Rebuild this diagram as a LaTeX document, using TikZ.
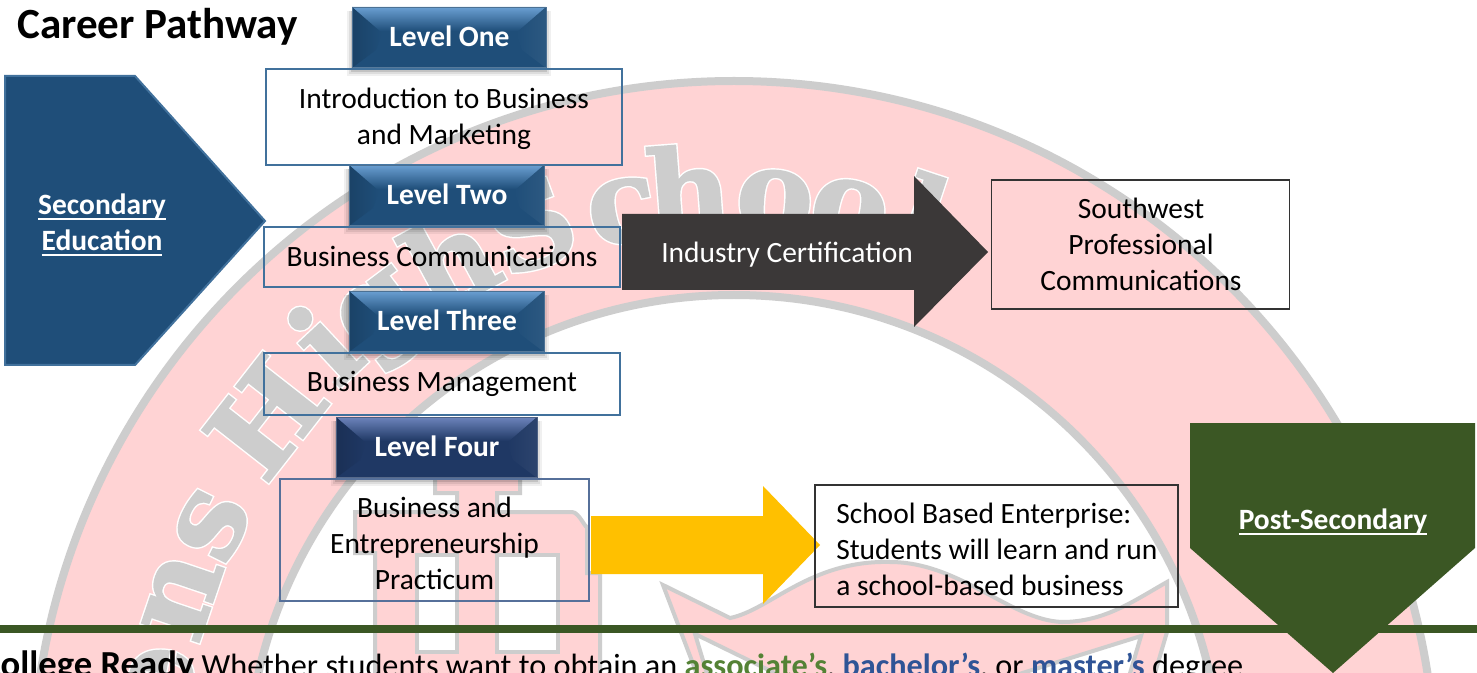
\documentclass[tikz,border=0pt]{standalone}
\usepackage{fontspec}
\setmainfont{Carlito}
\newfontfamily\wmfont[FakeBold=1.5]{DejaVu Serif Bold}
\newfontfamily\wmhalo[FakeBold=4]{DejaVu Serif Bold}
\usetikzlibrary{calc}
\definecolor{wmpink}{HTML}{FFD3D4}
\definecolor{wmgray}{HTML}{CDCDCD}
\definecolor{navy}{HTML}{1F4E79}
\definecolor{navylight}{HTML}{6A9FD2}
\definecolor{navyline}{HTML}{41719C}
\definecolor{dnavy}{HTML}{1F3864}
\definecolor{dnavylight}{HTML}{6D84BC}
\definecolor{slate}{HTML}{56709A}
\definecolor{forest}{HTML}{3B5724}
\definecolor{charcoal}{HTML}{3B3838}
\definecolor{gold}{HTML}{FFC000}
\definecolor{assoc}{HTML}{548235}
\definecolor{bach}{HTML}{2F5496}
\newcommand{\bodyfont}{\fontsize{22.1}{27}\selectfont}
\newcommand{\thickul}[1]{\begingroup\setbox0\hbox{#1}\rlap{\raisebox{-3.6pt}{\rule{\wd0}{1.4pt}}}\box0\endgroup}
\tikzset{
  plainbox/.style={draw=navyline,line width=0.8pt,fill=none},
  blackbox/.style={draw=black!80,line width=0.8pt,fill=none},
  bodytext/.style={font=\bodyfont,text=black,align=center,inner sep=0pt},
  levellabel/.style={font=\bodyfont\bfseries,text=white,inner sep=0pt},
  wmhalostyle/.style={font=\wmhalo\fontsize{87}{87}\selectfont,anchor=base,inner sep=0pt,text=white},
  wmletter/.style={font=\wmfont\fontsize{87}{87}\selectfont,anchor=base,inner sep=0pt,text=wmgray},
}
% name x0 y0 x1 y1 text base light
\newcommand{\levelbox}[8]{%
  \foreach \sh/\op in {7/0.06,5/0.08,3/0.12,1/0.15}{%
    \fill[black,opacity=\op] (#2-\sh+2,#3+4) rectangle (#4+\sh-2,#5+\sh+1);}
  \fill[#7] (#2,#3) rectangle (#4,#5);
  \shade[top color=#8,bottom color=#7] (#2,#3) -- (#4,#3) -- (#4-24,#3+24) -- (#2+24,#3+24) -- cycle;
  \shade[left color=#7!85!black,right color=#7] (#2,#3) -- (#2+30,#3+26) -- (#2+24,#5-18) -- (#2,#5) -- cycle;
  \shade[left color=#7,right color=#7!94!white] (#4,#3) -- (#4-30,#3+26) -- (#4-24,#5-18) -- (#4,#5) -- cycle;
  \draw[#7!75!white,line width=1pt] (#2,#5) -- (#4,#5);
  \draw[#7!80!white,line width=.6pt] (#2,#3) rectangle (#4,#5);
  \node[levellabel] (#1) at ({(#2+#4)/2+0.5},{(#3+#5)/2-1.5}) {#6};
}
\begin{document}
\begin{tikzpicture}[x=0.75pt,y=-0.75pt]
\useasboundingbox (0,0) rectangle (1477,673);
\clip (0,0) rectangle (1477,673);
\fill[white] (0,0) rectangle (1477,673);
% watermark ring
\path[fill=wmpink,draw=wmgray,line width=6pt,even odd rule] (734,783) circle[radius=702] (734,783) circle[radius=488];
% watermark letters
\begin{scope}[shift={(734,783)}]
\foreach \ch/\ang/\rr [count=\i] in {e/170/552,n/161.3/552,s/153.7/552,H/142/552,i/133/558,g/127/560,h/118.5/552,S/110/552,c/101/552,h/94.4/552,o/86/552,o/78.6/552,l/71.6/552}{
  \node[wmhalostyle,rotate=\ang-90] (wh\i) at (-\ang:\rr) {\ch};
}
\foreach \ch/\ang/\rr [count=\i] in {e/170/552,n/161.3/552,s/153.7/552,H/142/552,i/133/558,g/127/560,h/118.5/552,S/110/552,c/101/552,h/94.4/552,o/86/552,o/78.6/552,l/71.6/552}{
  \node[wmletter,rotate=\ang-90] (wm\i) at (-\ang:\rr) {\ch};
}
\end{scope}
% watermark emblem
\path[fill=wmpink,draw=wmgray,line width=3pt] (435,465)--(435,493)--(457,493)--(457,512)--(355,512)--(355,553)--(375,553)--(375,690)--(600,690)--(600,573)--(587,573)--(587,525) to[out=-90,in=0] (572,512) --(497,512)--(497,493)--(520,493)--(520,465)--cycle;
\path[fill=white,draw=wmgray,line width=3pt] (417,555) rectangle (457,652);
\path[fill=white,draw=wmgray,line width=3pt] (497,555) rectangle (558,652);
\path[fill=wmpink,draw=wmgray,line width=3pt] (663,585) -- (730,618) .. controls (770,610) and (810,560) .. (890,562) .. controls (960,562) and (1010,620) .. (1062,622) .. controls (1105,622) and (1135,600) .. (1167,582) -- (1167,632) -- (1150,690) -- (703,690) -- cycle;
\path[fill=white,draw=wmgray,line width=3pt] (695,634) -- (785,678) -- (712,690) -- cycle;
\path[fill=white,draw=wmgray,line width=3pt] (1141,636) -- (1000,680) -- (1128,680) -- cycle;
% title
\node[font=\fontsize{32.3}{36}\selectfont\bfseries,anchor=base west,inner sep=0pt] (title) at (17,39) {Career Pathway};
% secondary education
\path[fill=navy,draw=navyline,line width=1.5pt] (5,76) -- (135,76) -- (265,221) -- (135,365) -- (5,365) -- cycle;
\node[font=\bodyfont\bfseries,text=white,align=center,inner sep=0pt] (sec) at (102,225) {\thickul{Secondary}\\\thickul{Education}};
% level boxes and course boxes
\levelbox{l1}{352}{7}{546}{68}{Level One}{navy}{navylight}
\node[plainbox,minimum width=356*0.75pt,minimum height=96*0.75pt] (b1) at (444,117) {};
\node[bodytext] (t1) at (444,119) {Introduction to Business\\and Marketing};
\levelbox{l2}{349}{165}{544}{226}{Level Two}{navy}{navylight}
\node[plainbox,minimum width=356*0.75pt,minimum height=60*0.75pt] (b2) at (442,257) {};
\node[bodytext] (t2) at (442,256) {Business Communications};
\levelbox{l3}{349}{291}{544}{352}{Level Three}{navy}{navylight}
\node[plainbox,minimum width=356*0.75pt,minimum height=62*0.75pt] (b3) at (442,384) {};
\node[bodytext] (t3) at (442,384) {Business Management};
\levelbox{l4}{336}{417}{537}{478}{Level Four}{dnavy}{dnavylight}
\node[draw=slate,line width=0.8pt,minimum width=309*0.75pt,minimum height=122*0.75pt] (b4) at (434.5,540) {};
\node[bodytext] (t4) at (434.5,543) {Business and\\Entrepreneurship\\Practicum};
% industry arrow
\fill[charcoal] (622,214) -- (914,214) -- (914,176) -- (988,252) -- (914,327) -- (914,290) -- (622,290) -- cycle;
\node[font=\bodyfont,text=white,inner sep=0pt] (ind) at (787,255) {Industry Certification};
\node[blackbox,minimum width=298*0.75pt,minimum height=129*0.75pt] (sw) at (1140.5,244.5) {};
\node[bodytext] (swt) at (1141,244) {Southwest\\Professional\\Communications};
% enterprise arrow
\fill[gold] (591,516) -- (763,516) -- (763,486) -- (820,545) -- (763,604) -- (763,574) -- (591,574) -- cycle;
\node[blackbox,minimum width=363*0.75pt,minimum height=122*0.75pt] (sbe) at (996.5,546) {};
\node[bodytext,align=left,anchor=west] (sbet) at (836,549) {School Based Enterprise:\\Students will learn and run\\a school-based business};
% divider and post-secondary
\fill[forest] (0,625) rectangle (1477,633);
\fill[forest] (1190,423) -- (1475,423) -- (1475,548) -- (1333,673) -- (1190,548) -- cycle;
\node[font=\bodyfont\bfseries,text=white,inner sep=0pt] (post) at (1333,522) {\thickul{Post-Secondary}};
% bottom line
\node[font=\fontsize{24.2}{27}\selectfont,anchor=base west,inner sep=0pt] (cr) at (-19,676) {{\fontsize{27.5}{27}\selectfont\bfseries College Ready} Whether students want to obtain an {\bfseries\color{assoc}associate’s}, {\bfseries\color{bach}bachelor’s}, or {\bfseries\color{bach}master’s} degree};
\end{tikzpicture}
\end{document}
